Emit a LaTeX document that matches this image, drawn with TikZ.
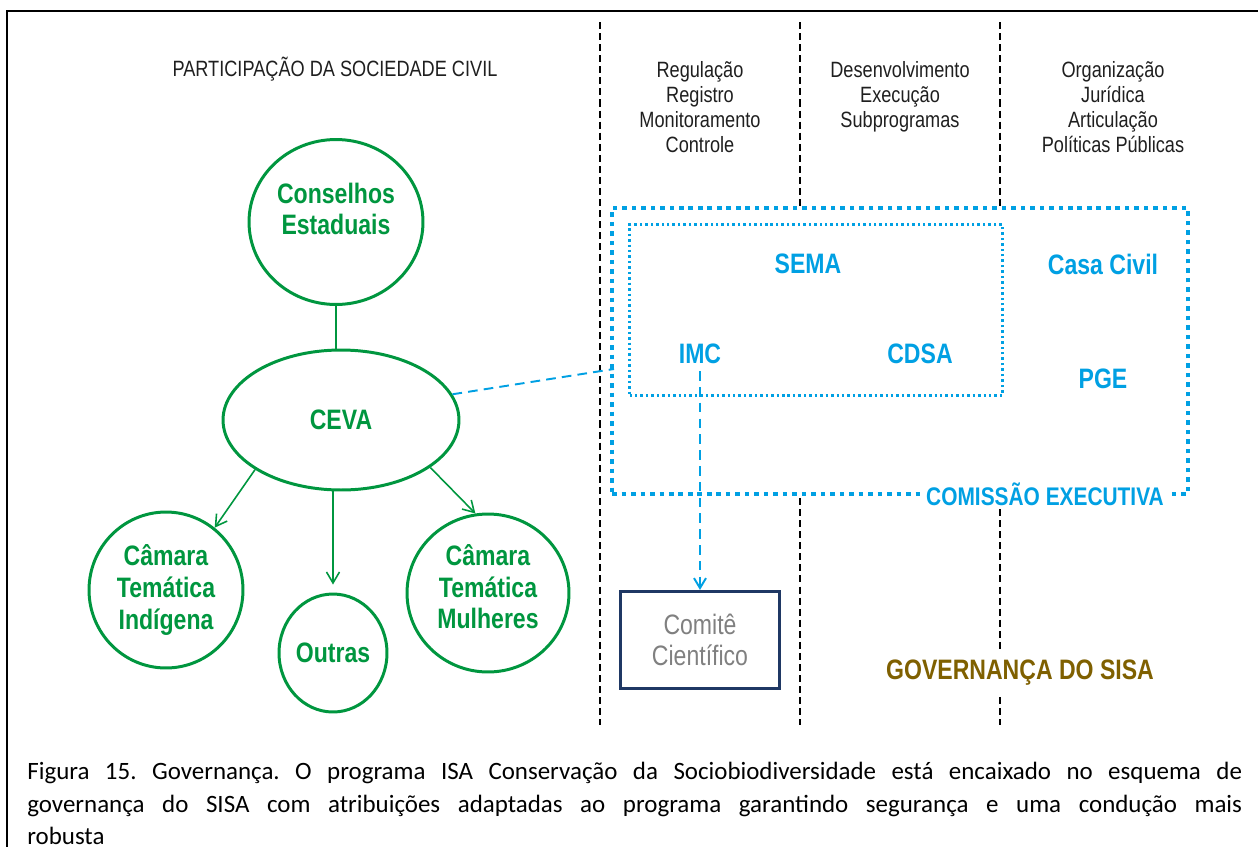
\documentclass[tikz,border=0pt]{standalone}
\usepackage{fontspec}
\setmainfont{Liberation Sans}[FakeStretch=0.82]
\newfontfamily\capfont{Carlito}
\usetikzlibrary{arrows.meta,positioning,shapes.geometric,calc}
\definecolor{cgreen}{HTML}{00963F}
\definecolor{cblue}{HTML}{00A0E3}
\definecolor{cnavy}{HTML}{1F3864}
\definecolor{cgray}{HTML}{808080}
\definecolor{colive}{HTML}{7F6000}

\begin{document}
\begin{tikzpicture}[x=0.02cm, y=-0.02cm,
  orgao/.style={draw=cgreen, line width=1.7pt, ellipse, inner sep=0pt, align=center, text=cgreen, font=\fontsize{16}{18}\selectfont\bfseries},
  gline/.style={cgreen, line width=1.1pt},
  garr/.style={-{Straight Barb[length=2.2mm,width=2.6mm]}, cgreen, line width=0.9pt},
  head/.style={align=center, text=black!88, font=\fontsize{12.6}{14.2}\selectfont},
  sigla/.style={text=cblue, inner sep=1pt, font=\fontsize{16}{18}\selectfont\bfseries},
  coluna/.style={black, line width=1.1pt, dash pattern=on 4pt off 2.3pt},
  bdash/.style={cblue, line width=1.1pt, dash pattern=on 5.5pt off 3.5pt},
]
  \useasboundingbox (0,0) rectangle (1258,846);
  \clip (0,0) rectangle (1258,846);
  \draw[line width=1.4pt] (7,11) rectangle (1300,900);

  \foreach \cx in {600,800,1000}
    \draw[coluna] (\cx,22) -- (\cx,725);

  \node[head] (psc) at (335,69) {PARTICIPAÇÃO DA SOCIEDADE CIVIL};
  \node[head] (reg) at (700,107) {Regulação\\Registro\\Monitoramento\\Controle};
  \node[head] (des) at (900,97) {Desenvolvimento\\Execução\\Subprogramas};
  \node[head] (org) at (1113,107) {Organização\\Jurídica\\Articulação\\Políticas Públicas};

  \node[orgao, minimum width=3.48cm, minimum height=3.3cm] (cons) at (336,222) {Conselhos\\Estaduais\\[-3pt]\mbox{}};
  \node[orgao, minimum width=4.72cm, minimum height=2.8cm] (ceva) at (341,420) {CEVA};
  \node[orgao, minimum width=3.08cm, minimum height=3.12cm] (ind) at (166,590) {Câmara\\Temática\\Indígena};
  \node[orgao, minimum width=2.16cm, minimum height=2.36cm] (outras) at (333,653) {Outras};
  \node[orgao, minimum width=3.24cm, minimum height=3.16cm] (mulh) at (488,593) {Câmara\\Temática\\Mulheres\\[-11pt]\mbox{}};

  \draw[gline] (cons.south) -- (cons.south |- ceva.north);
  \draw[garr] (ceva.210) -- (ind.52);
  \draw[garr, shorten >=0.16cm] (outras.north |- ceva.south) -- (outras.north);
  \draw[garr] (ceva.-28) -- (mulh.99);

  \node[draw=cblue, fill=white, line width=2.5pt, dash pattern=on 2.6pt off 2.8pt, inner sep=0, minimum width=11.52cm, minimum height=5.72cm] (comm) at (900,351) {};
  \node[draw=cblue, line width=1.4pt, dash pattern=on 1.4pt off 1.7pt, inner sep=0, minimum width=7.46cm, minimum height=3.42cm] (semabox) at (816,310) {};

  \node[sigla] (sema) at (808,264) {SEMA};
  \node[sigla] (casa) at (1103,264) {Casa Civil};
  \node[sigla] (imc) at (700,354) {IMC};
  \node[sigla] (cdsa) at (920,354) {CDSA};
  \node[sigla] (pge) at (1103,379) {PGE};
  \node[sigla, fill=white, inner xsep=3pt, font=\fontsize{14.5}{16}\selectfont\bfseries] (comex) at (1045,494) {COMISSÃO EXECUTIVA};

  \node[draw=cnavy, line width=1.8pt, inner sep=0, minimum width=3.18cm, minimum height=1.94cm, align=center, text=cgray, font=\fontsize{16}{17.6}\selectfont] (comite) at (700,640) {Comitê\\Científico};

  \coordinate (cex) at (614,369);
  \draw[bdash] (ceva.13) -- (cex);
  \draw[bdash, -{Straight Barb[length=2mm,width=2.4mm]}, shorten <=0.1cm] (imc) -- (comite);

  \node[fill=white, text=colive, inner xsep=2pt, inner ysep=4.5pt, font=\fontsize{16}{18}\selectfont\bfseries] (gov) at (1020,673) {GOVERNANÇA DO SISA};

  \node[anchor=north west, inner sep=0, text width=24.3cm, align=justify, font=\capfont\fontsize{14.2}{18.4}\selectfont] (legenda) at (27,762) {\frenchspacing\tolerance=9999\hyphenpenalty=10000 Figura 15. Governança. O programa ISA Conservação da Sociobiodiversidade está encaixado no esquema de\linebreak governança do SISA com atribuições adaptadas ao programa garantindo segurança e uma condução mais\linebreak robusta};
\end{tikzpicture}
\end{document}
